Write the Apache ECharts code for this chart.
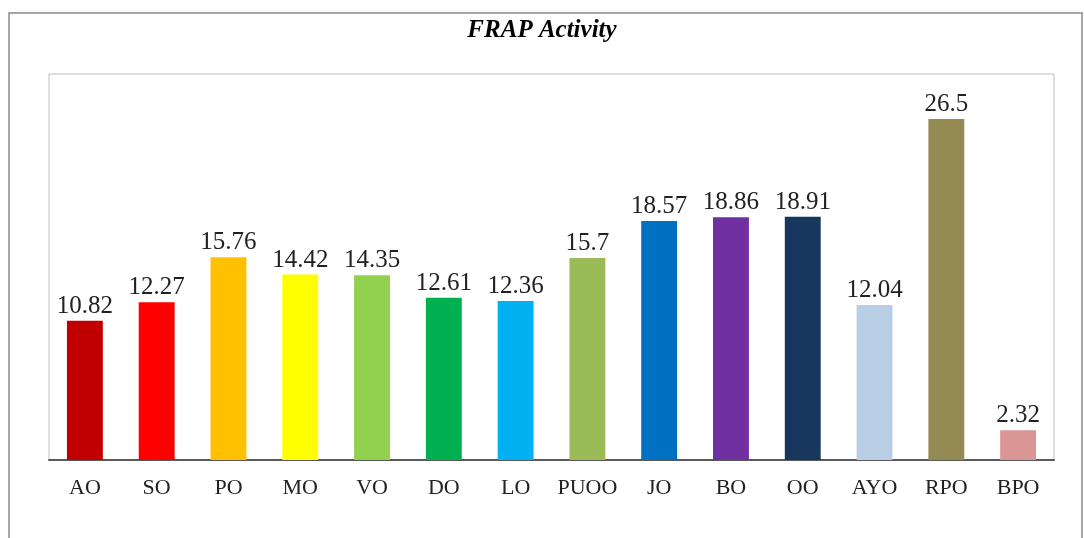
<!DOCTYPE html>
<html>
<head>
<meta charset="utf-8">
<script src="https://cdn.jsdelivr.net/npm/echarts@6/dist/echarts.min.js"></script>
<style>
  html, body { margin: 0; padding: 0; background: #fff; }
  #chart { width: 1084px; height: 538px; }
</style>
</head>
<body>
<div id="chart"></div>
<script>
const categories = ['AO', 'SO', 'PO', 'MO', 'VO', 'DO', 'LO', 'PUOO', 'JO', 'BO', 'OO', 'AYO', 'RPO', 'BPO']
const values = [10.82, 12.27, 15.76, 14.42, 14.35, 12.61, 12.36, 15.7, 18.57, 18.86, 18.91, 12.04, 26.5, 2.32]
const barColors = ['#C00000', '#FF0000', '#FFC000', '#FFFF00', '#92D050', '#00B050', '#00B0F0',
  '#9BBB59', '#0070C0', '#7030A0', '#17375E', '#B9CDE5', '#948A54', '#D99694']

const chart = echarts.init(document.getElementById('chart'))

const serif = '"Liberation Serif", "DejaVu Serif", serif'

chart.setOption({
  animation: false,
  title: {
    text: 'FRAP Activity',
    left: 'center',
    top: 13,
    textStyle: {
      fontFamily: serif,
      fontSize: 25,
      fontWeight: 'bold',
      fontStyle: 'italic',
      color: '#000',
    },
  },
  graphic: [
    {
      type: 'rect',
      shape: { x: 9, y: 13, width: 1073, height: 540 },
      style: { fill: 'none', stroke: '#8a8a8a', lineWidth: 1.5 },
      silent: true,
    },
  ],
  grid: {
    left: 49,
    right: 30,
    top: 74,
    bottom: 78,
    show: true,
    borderColor: '#bdbdbd',
    borderWidth: 1,
  },
  xAxis: {
    type: 'category',
    data: categories,
    axisLine: { lineStyle: { color: '#595959', width: 2 } },
    axisTick: { show: false },
    axisLabel: {
      interval: 0,
      hideOverlap: false,
      fontFamily: serif,
      fontSize: 22,
      color: '#222',
      margin: 17,
    },
  },
  yAxis: {
    type: 'value',
    min: 0,
    max: 30,
    show: false,
    splitLine: { show: false },
  },
  series: [
    {
      type: 'bar',
      data: values.map((v, i) => ({ value: v, itemStyle: { color: barColors[i] } })),
      barWidth: '50%',
      label: {
        show: true,
        position: 'top',
        distance: 2,
        fontFamily: serif,
        fontSize: 25,
        color: '#222',
      },
    },
  ],
})
</script>
</body>
</html>
